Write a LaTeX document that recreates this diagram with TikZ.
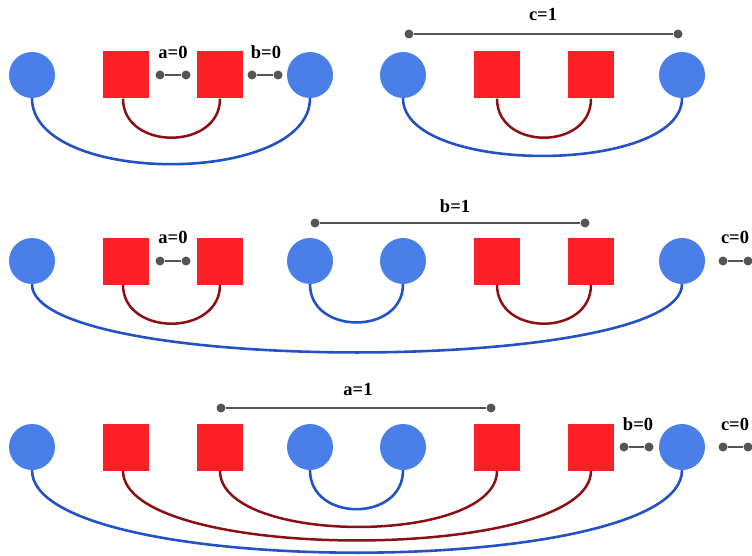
\documentclass[tikz,border=0pt]{standalone}
\usepackage{tikz}
\usepackage{fontspec}
\setmainfont{Liberation Serif}
\definecolor{cfill}{HTML}{4A7FEA}
\definecolor{sfill}{HTML}{FC1F26}
\definecolor{bline}{HTML}{2452C4}
\definecolor{rline}{HTML}{8A1014}
\definecolor{gline}{HTML}{555555}
\tikzset{
  bluedot/.style={circle,fill=cfill,minimum size=46pt,inner sep=0pt},
  redsq/.style={rectangle,fill=sfill,minimum width=46pt,minimum height=47pt,inner sep=0pt},
  gdot/.style={circle,fill=gline,minimum size=9pt,inner sep=0pt},
  gbar/.style={draw=gline,line width=1.5pt},
  bcurve/.style={draw=bline,line width=2.6pt},
  rcurve/.style={draw=rline,line width=2.5pt},
  lab/.style={font=\fontsize{18.5}{22}\selectfont\bfseries,anchor=base,inner sep=0pt}
}
\begin{document}
\begin{tikzpicture}[x=1pt,y=-1pt]
\useasboundingbox (0,0) rectangle (752,556);
% ---------- Row 1 left ----------
\node[bluedot] (a1) at (32,75) {};
\node[redsq] (a2) at (126,75) {};
\node[redsq] (a3) at (220,75) {};
\node[bluedot] (a4) at (310,75) {};
\node[gdot] (p1) at (160,75) {};
\node[gdot] (p2) at (186,75) {};
\draw[gbar] (p1) -- (p2);
\node[lab] (la) at (173,59) {a=0};
\node[gdot] (p3) at (252,75) {};
\node[gdot] (p4) at (278,75) {};
\draw[gbar] (p3) -- (p4);
\node[lab] (lb) at (266,59) {b=0};
\draw[bcurve] (a1.south) .. controls +(0,88) and +(0,88) .. (a4.south);
\draw[rcurve] ([xshift=-3pt]a2.south) .. controls +(0,52) and +(0,52) .. (a3.south);
% ---------- Row 1 right ----------
\node[bluedot] (b1) at (403,75) {};
\node[redsq] (b2) at (497,75) {};
\node[redsq] (b3) at (591,75) {};
\node[bluedot] (b4) at (682,75) {};
\node[gdot] (q1) at (409,34) {};
\node[gdot] (q2) at (678,34) {};
\draw[gbar] (q1) -- (q2);
\node[lab] (lc) at (543,21) {c=1};
\draw[bcurve] (b1.south) .. controls +(0,77) and +(0,77) .. (b4.south);
\draw[rcurve] (b2.south) .. controls +(0,52) and +(0,52) .. (b3.south);
% ---------- Row 2 ----------
\node[bluedot] (c1) at (32,261) {};
\node[redsq] (c2) at (126,261) {};
\node[redsq] (c3) at (220,261) {};
\node[bluedot] (c4) at (310,261) {};
\node[bluedot] (c5) at (403,261) {};
\node[redsq] (c6) at (497,261) {};
\node[redsq] (c7) at (591,261) {};
\node[bluedot] (c8) at (682,261) {};
\node[gdot] (r1) at (160,261) {};
\node[gdot] (r2) at (186,261) {};
\draw[gbar] (r1) -- (r2);
\node[lab] (la2) at (173,243) {a=0};
\node[gdot] (r3) at (315,223) {};
\node[gdot] (r4) at (585,223) {};
\draw[gbar] (r3) -- (r4);
\node[lab] (lb2) at (455,212) {b=1};
\node[gdot] (r5) at (723,261) {};
\node[gdot] (r6) at (748,261) {};
\draw[gbar] (r5) -- (r6);
\node[lab] (lc2) at (735,243) {c=0};
\draw[bcurve] (c1.south) .. controls +(0,91) and +(0,91) .. (c8.south);
\draw[bcurve] (c4.south) .. controls +(0,51) and +(0,51) .. (c5.south);
\draw[rcurve] ([xshift=-3pt]c2.south) .. controls +(0,52) and +(0,52) .. (c3.south);
\draw[rcurve] (c6.south) .. controls +(0,52) and +(0,52) .. (c7.south);
% ---------- Row 3 ----------
\node[bluedot] (d1) at (32,447) {};
\node[redsq] (d2) at (126,447) {};
\node[redsq] (d3) at (220,447) {};
\node[bluedot] (d4) at (310,447) {};
\node[bluedot] (d5) at (403,447) {};
\node[redsq] (d6) at (497,447) {};
\node[redsq] (d7) at (591,447) {};
\node[bluedot] (d8) at (682,447) {};
\node[gdot] (s1) at (221,408) {};
\node[gdot] (s2) at (491,408) {};
\draw[gbar] (s1) -- (s2);
\node[lab] (la3) at (358,395) {a=1};
\node[gdot] (s3) at (624,447) {};
\node[gdot] (s4) at (649,447) {};
\draw[gbar] (s3) -- (s4);
\node[lab] (lb3) at (638,430) {b=0};
\node[gdot] (s5) at (723,447) {};
\node[gdot] (s6) at (748,447) {};
\draw[gbar] (s5) -- (s6);
\node[lab] (lc3) at (735,430) {c=0};
\draw[bcurve] (d1.south) .. controls +(0,110) and +(0,110) .. (d8.south);
\draw[rcurve] ([xshift=-3pt]d2.south) .. controls +(0,93) and +(0,93) .. (d7.south);
\draw[rcurve] (d3.south) .. controls +(0,75) and +(0,75) .. (d6.south);
\draw[bcurve] (d4.south) .. controls +(0,52) and +(0,52) .. (d5.south);
\end{tikzpicture}
\end{document}
